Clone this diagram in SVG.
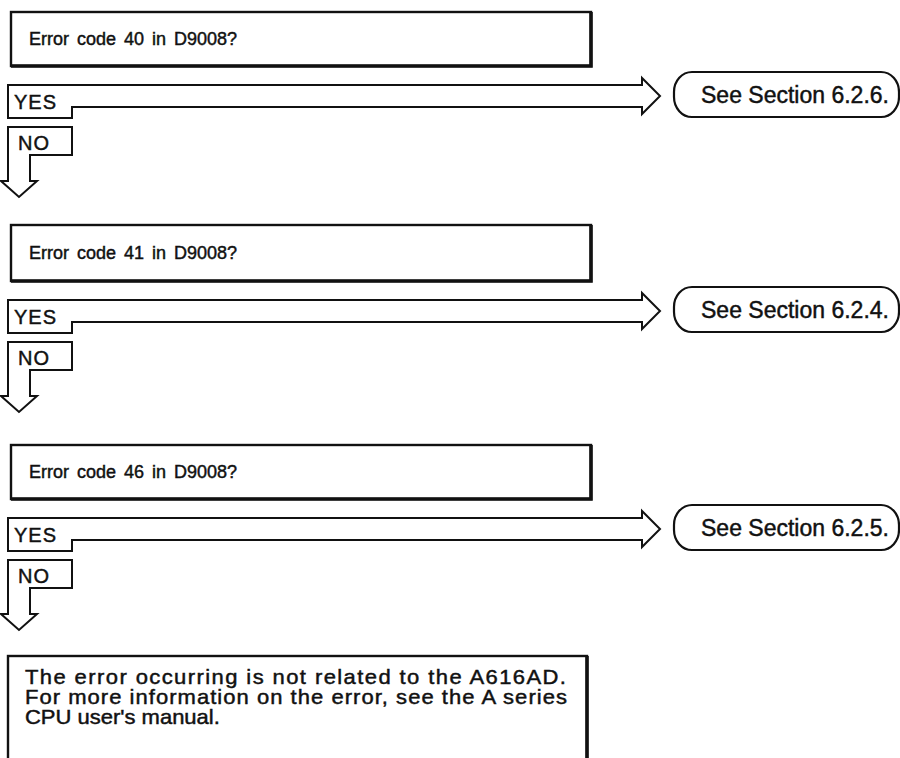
<svg xmlns="http://www.w3.org/2000/svg" width="900" height="758" viewBox="0 0 900 758">
<style>
.box{fill:#fff;stroke:#111;stroke-width:2.4}
.shade{fill:none;stroke:#111;stroke-width:3.6}
.flow{fill:none;stroke:#111;stroke-width:2;stroke-linejoin:miter}
.term{fill:#fff;stroke:#111;stroke-width:2.2}
text{font-family:"Liberation Sans",Arial,sans-serif;fill:#111;stroke:#111;stroke-width:0.45}
.q{font-size:18px;word-spacing:3px}
.lbl{font-size:20px;letter-spacing:1px}
.ref{font-size:23px}
.msg{font-size:20px}
</style>
<rect width="900" height="758" fill="#fff"/>
<g id="connectors">
  <path id="yes1" class="flow" d="M8,118 V85 H642 V78 L660,96 L642,114 V107 H72 V118 Z"/>
  <path id="no1" class="flow" d="M8,127 H72 V155 H30 V181 H37 L19,197 L1,181 H8 Z"/>
  <path id="yes2" class="flow" d="M8,333 V300 H642 V293 L660,311 L642,329 V322 H72 V333 Z"/>
  <path id="no2" class="flow" d="M8,342 H72 V370 H30 V396 H37 L19,412 L1,396 H8 Z"/>
  <path id="yes3" class="flow" d="M8,551 V518 H642 V511 L660,529 L642,547 V540 H72 V551 Z"/>
  <path id="no3" class="flow" d="M8,560 H72 V588 H30 V614 H37 L19,630 L1,614 H8 Z"/>
  <text class="lbl" x="14" y="109">YES</text>
  <text class="lbl" x="18" y="150">NO</text>
  <text class="lbl" x="14" y="324">YES</text>
  <text class="lbl" x="18" y="365">NO</text>
  <text class="lbl" x="14" y="542">YES</text>
  <text class="lbl" x="18" y="583">NO</text>
</g>
<g id="q1">
  <rect class="box" x="11" y="12" width="580" height="54"/>
  <path class="shade" d="M591,12 V66 H11"/>
  <text class="q" x="29" y="45">Error code 40 in D9008?</text>
</g>
<g id="t1">
  <rect class="term" x="674" y="72" width="225" height="45" rx="18" ry="20"/>
  <text class="ref" x="701" y="103">See Section 6.2.6.</text>
</g>
<g id="q2">
  <rect class="box" x="11" y="225" width="580" height="56"/>
  <path class="shade" d="M591,225 V281 H11"/>
  <text class="q" x="29" y="259">Error code 41 in D9008?</text>
</g>
<g id="t2">
  <rect class="term" x="674" y="287" width="225" height="45" rx="18" ry="20"/>
  <text class="ref" x="701" y="318">See Section 6.2.4.</text>
</g>
<g id="q3">
  <rect class="box" x="11" y="445" width="580" height="54"/>
  <path class="shade" d="M591,445 V499 H11"/>
  <text class="q" x="29" y="478">Error code 46 in D9008?</text>
</g>
<g id="t3">
  <rect class="term" x="674" y="505" width="225" height="45" rx="18" ry="20"/>
  <text class="ref" x="701" y="536">See Section 6.2.5.</text>
</g>
<g id="end">
  <rect class="box" x="8" y="656" width="579" height="130"/>
  <path class="shade" d="M587,656 V760"/>
  <g transform="scale(1.1,1)">
    <text class="msg" x="22.7" y="684" textLength="491.8" lengthAdjust="spacing">The error occurring is not related to the A616AD.</text>
    <text class="msg" x="22.7" y="704" textLength="492.7" lengthAdjust="spacing">For more information on the error, see the A series</text>
    <text class="msg" x="22.7" y="724">CPU  user's  manual.</text>
  </g>
</g>
</svg>
